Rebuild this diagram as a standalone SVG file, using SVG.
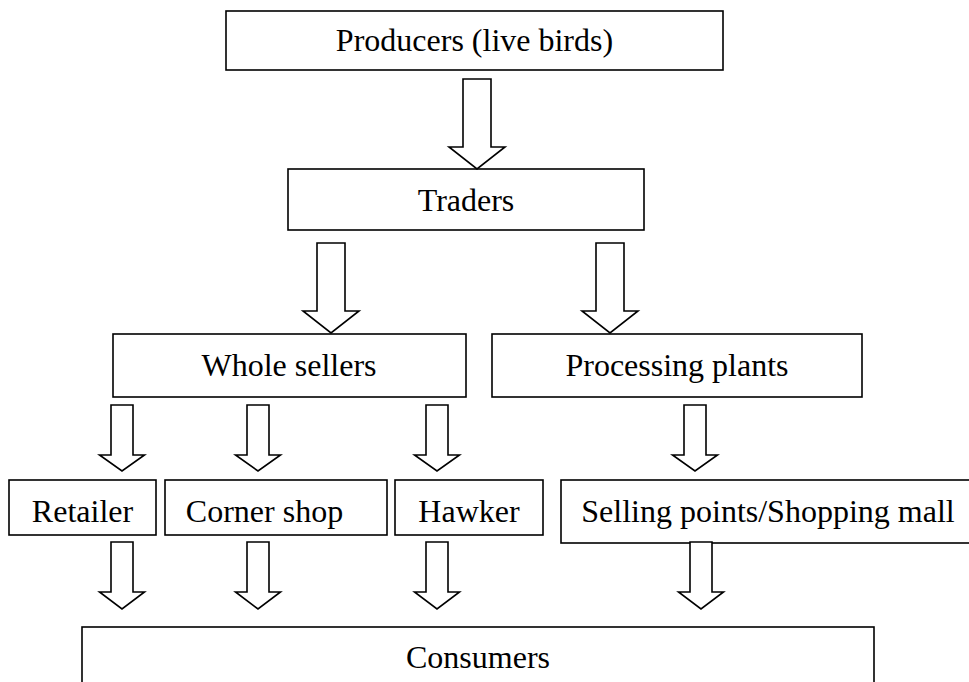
<svg xmlns="http://www.w3.org/2000/svg" width="969" height="682" viewBox="0 0 969 682">
<style>
.box{fill:#fff;stroke:#000;stroke-width:1.6}
.arr{fill:#fff;stroke:#000;stroke-width:1.6;stroke-linejoin:miter}
.t{font-family:"Liberation Serif","Times New Roman",serif;font-size:32px;fill:#000;text-anchor:middle}
</style>
<defs>
<clipPath id="clipCorner"><rect x="165" y="480" width="222" height="55"/></clipPath>
</defs>
<rect width="969" height="682" fill="#fff"/>
<g id="producers"><rect class="box" x="226" y="11" width="497" height="59"/><text class="t" x="474.5" y="51">Producers (live birds)</text></g>
<g id="traders"><rect class="box" x="288" y="169" width="356" height="61"/><text class="t" x="466" y="211">Traders</text></g>
<g id="wholesellers"><rect class="box" x="113" y="334" width="353" height="63"/><text class="t" x="289" y="376">Whole sellers</text></g>
<g id="processing"><rect class="box" x="492" y="334" width="370" height="63"/><text class="t" x="677" y="376">Processing plants</text></g>
<g id="retailer"><rect class="box" x="9" y="480" width="147" height="55"/><text class="t" x="82.5" y="522">Retailer</text></g>
<g id="cornershop"><rect class="box" x="165" y="480" width="222" height="55"/><text class="t" x="264.5" y="522" clip-path="url(#clipCorner)">Corner shop</text></g>
<g id="hawker"><rect class="box" x="395" y="480" width="148" height="55"/><text class="t" x="469" y="522">Hawker</text></g>
<g id="sellingpoints"><rect class="box" x="561" y="480" width="420" height="63"/><text class="t" x="768" y="522">Selling points/Shopping mall</text></g>
<g id="consumers"><rect class="box" x="82" y="627" width="792" height="80"/><text class="t" x="478" y="668">Consumers</text></g>
<g id="connectors">
<path class="arr" d="M463,79 H491 V147 H505 L477,169 L449,147 H463 Z"/>
<path class="arr" d="M317,243 H345 V311 H359 L331,333 L303,311 H317 Z"/>
<path class="arr" d="M596,243 H624 V311 H638 L610,333 L582,311 H596 Z"/>
<path class="arr" d="M111,405 H133 V455 H144.5 L122,471 L99.5,455 H111 Z"/>
<path class="arr" d="M247,405 H269 V455 H280.5 L258,471 L235.5,455 H247 Z"/>
<path class="arr" d="M426,405 H448 V455 H459.5 L437,471 L414.5,455 H426 Z"/>
<path class="arr" d="M684,405 H706 V455 H717.5 L695,471 L672.5,455 H684 Z"/>
<path class="arr" d="M111,542 H133 V592 H144.5 L122,609 L99.5,592 H111 Z"/>
<path class="arr" d="M247,542 H269 V592 H280.5 L258,609 L235.5,592 H247 Z"/>
<path class="arr" d="M426,542 H448 V592 H459.5 L437,609 L414.5,592 H426 Z"/>
<path class="arr" d="M690,542 H712 V592 H723.5 L701,609 L678.5,592 H690 Z"/>
</g>
</svg>
